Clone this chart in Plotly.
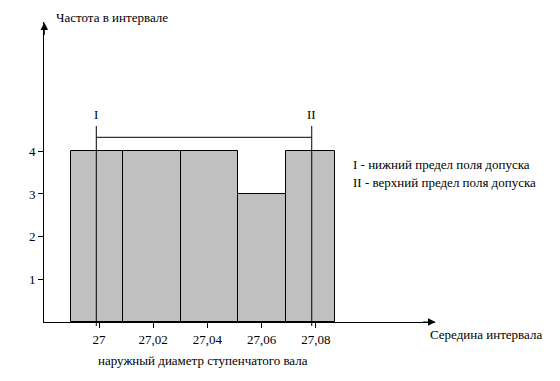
import plotly.graph_objects as go

# ---------------- data ----------------
interval_centers = [27.00, 27.02, 27.04, 27.06, 27.08]
frequencies = [4, 4, 4, 3, 4]
# interval boundaries as drawn in the picture
bin_edges = [26.9897, 27.0089, 27.0303, 27.0513, 27.0690, 27.0871]
x_tick_vals = [27.00, 27.02, 27.04, 27.06, 27.08]
x_tick_text = ["27", "27,02", "27,04", "27,06", "27,08"]
y_tick_vals = [1, 2, 3, 4]
y_tick_text = ["1", "2", "3", "4"]
tolerance_limits = [26.999, 27.0785]
tolerance_labels = ["I", "II"]
legend_lines = ["I - нижний предел поля допуска", "II - верхний предел поля допуска"]
y_title = "Частота в интервале"
x_title = "Середина интервала"
bottom_title = "наружный диаметр ступенчатого вала"

# ---------------- layout constants (pixels) ----------------
W, H = 560, 381
L, R, T, B = 44, 125, 22, 59          # plot area: x 44..435, y 22..322
PX27, SCALE = 99.0, 2710.0            # pixel of x=27, pixels per unit
PY0, YSCALE = 322.0, 42.68            # pixel of y=0, pixels per unit
PW, PH = W - L - R, H - T - B

x_range = [27 + (L - PX27) / SCALE, 27 + (W - R - PX27) / SCALE]
y_range = [0, (PY0 - T) / YSCALE]


def px(x):
    return (x - L) / PW


def py(y):
    return (H - B - y) / PH


FONT = "Liberation Serif"
FS = 13
TXT = dict(family=FONT, size=FS, color="black")

centers = [(a + b) / 2 for a, b in zip(bin_edges[:-1], bin_edges[1:])]
widths = [b - a for a, b in zip(bin_edges[:-1], bin_edges[1:])]

fig = go.Figure()
fig.add_trace(go.Bar(
    x=centers, y=frequencies, width=widths,
    marker=dict(color="#C0C0C0", line=dict(color="black", width=1)),
    hovertext=[str(c) for c in interval_centers],
    showlegend=False,
))

shapes = []
annotations = []
for xv, lab in zip(tolerance_limits, tolerance_labels):
    shapes.append(dict(type="line", xref="x", yref="paper", x0=xv, x1=xv,
                       y0=py(326), y1=py(126), line=dict(color="black", width=1)))
    annotations.append(dict(text=lab, xref="x", yref="paper", x=xv, y=py(114.5),
                            showarrow=False, font=TXT,
                            xanchor="center", yanchor="middle"))
shapes.append(dict(type="line", xref="x", yref="paper",
                   x0=tolerance_limits[0], x1=tolerance_limits[1],
                   y0=py(137.3), y1=py(137.3), line=dict(color="black", width=1)))

for i, t in enumerate(legend_lines):
    annotations.append(dict(text=t, xref="paper", yref="paper", x=px(351), y=py(164 + 18 * i),
                            showarrow=False, xanchor="left", yanchor="middle", font=TXT))

annotations.append(dict(text=y_title, xref="paper", yref="paper", x=px(54), y=py(18),
                        showarrow=False, xanchor="left", yanchor="middle", font=TXT))
annotations.append(dict(text=x_title, xref="paper", yref="paper", x=px(428), y=py(334),
                        showarrow=False, xanchor="left", yanchor="middle", font=TXT))
annotations.append(dict(text=bottom_title, xref="paper", yref="paper", x=px(203), y=py(361),
                        showarrow=False, xanchor="center", yanchor="middle", font=TXT))
# axis arrowheads
annotations.append(dict(text="", xref="paper", yref="paper", x=px(44.3), y=py(22.5),
                        ax=0, ay=14, showarrow=True, arrowhead=2, arrowsize=1.5,
                        arrowwidth=1, arrowcolor="black"))
annotations.append(dict(text="", xref="paper", yref="paper", x=px(435.5), y=py(322),
                        ax=-14, ay=0, showarrow=True, arrowhead=2, arrowsize=1.5,
                        arrowwidth=1, arrowcolor="black"))

fig.update_layout(
    width=W, height=H,
    margin=dict(l=L, r=R, t=T, b=B, pad=0),
    paper_bgcolor="white", plot_bgcolor="white",
    font=TXT,
    xaxis=dict(range=x_range, tickvals=x_tick_vals, ticktext=x_tick_text,
               showline=True, linecolor="black", linewidth=1,
               ticks="outside", ticklen=5, tickcolor="black", tickwidth=1,
               showgrid=False, zeroline=False, automargin=False, fixedrange=True,
               tickfont=TXT),
    yaxis=dict(range=y_range, tickvals=y_tick_vals, ticktext=y_tick_text,
               showline=True, linecolor="black", linewidth=1,
               ticks="outside", ticklen=5, tickcolor="black", tickwidth=1,
               showgrid=False, zeroline=False, automargin=False, fixedrange=True,
               tickfont=TXT),
    shapes=shapes, annotations=annotations,
    bargap=0,
)

fig.write_html("out.html", config={"displayModeBar": False},
               post_script="document.body.style.margin='0';")
